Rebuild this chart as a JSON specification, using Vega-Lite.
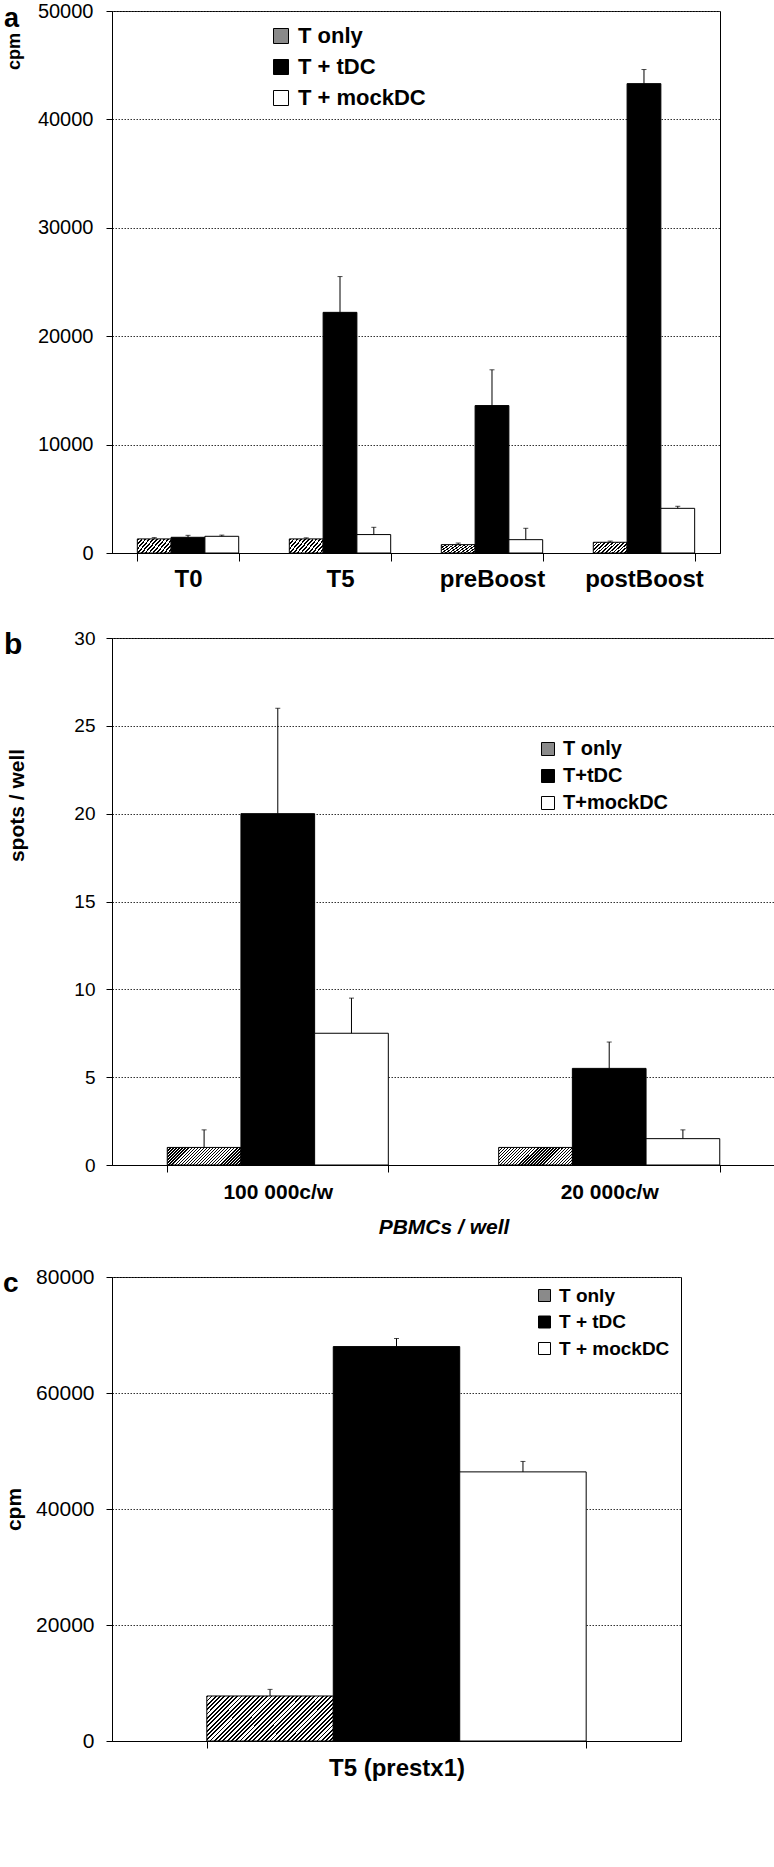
{
"$schema": "https://vega.github.io/schema/vega-lite/v6.json",
"padding": {"left": 2, "top": 0, "right": 0, "bottom": 0},
"background": "white",
"config": {
 "view": {"stroke": "black", "strokeWidth": 1},
 "font": "Liberation Sans",
 "axis": {"labelFont": "Liberation Sans", "titleFont": "Liberation Sans", "labelColor": "black", "titleColor": "black", "domainColor": "black", "tickColor": "black", "gridColor": "#333", "gridDash": [1.5, 1.5], "gridWidth": 1, "domainWidth": 1, "tickWidth": 1},
 "legend": {"labelFont": "Liberation Sans", "labelFontWeight": "bold", "labelColor": "black", "symbolType": "square", "symbolStrokeColor": "black", "symbolStrokeWidth": 1, "padding": 0, "offset": 0, "labelLimit": 0, "direction": "vertical"},
 "title": {"font": "Liberation Sans", "fontWeight": "bold", "color": "black", "anchor": "start", "frame": "group", "baseline": "alphabetic"}
},
"resolve": {"scale": {"fill": "independent", "y": "independent", "x": "independent", "xOffset": "independent"}, "legend": {"fill": "independent"}},
"spacing": 36,
"vconcat": [
 {
  "width": 608, "height": 542,
  "title": {"text": "a", "dx": -108, "offset": -32, "fontSize": 27},
  "data": {"values": [
   {"time": "T0", "cond": "T only", "v": 1300, "u": 1420},
   {"time": "T0", "cond": "T + tDC", "v": 1450, "u": 1630},
   {"time": "T0", "cond": "T + mockDC", "v": 1540, "u": 1650},
   {"time": "T5", "cond": "T only", "v": 1300, "u": 1400},
   {"time": "T5", "cond": "T + tDC", "v": 22200, "u": 25500},
   {"time": "T5", "cond": "T + mockDC", "v": 1700, "u": 2370},
   {"time": "preBoost", "cond": "T only", "v": 770, "u": 920},
   {"time": "preBoost", "cond": "T + tDC", "v": 13600, "u": 16900},
   {"time": "preBoost", "cond": "T + mockDC", "v": 1230, "u": 2280},
   {"time": "postBoost", "cond": "T only", "v": 990, "u": 1100},
   {"time": "postBoost", "cond": "T + tDC", "v": 43300, "u": 44600},
   {"time": "postBoost", "cond": "T + mockDC", "v": 4120, "u": 4310}
  ]},
  "encoding": {
   "x": {"field": "time", "type": "nominal", "sort": null, "scale": {"type": "band", "paddingInner": 0.333, "paddingOuter": 0.1667}, "axis": {"title": null, "labelAngle": 0, "tickBand": "extent", "tickSize": 8, "labelPadding": 6, "labelFontSize": 24, "labelFontWeight": "bold", "grid": false}},
   "xOffset": {"field": "cond", "type": "nominal", "sort": ["T only", "T + tDC", "T + mockDC"], "scale": {"type": "band", "paddingInner": 0, "paddingOuter": 0}}
  },
  "layer": [
   {"mark": {"type": "bar", "stroke": "black", "strokeWidth": 1},
    "encoding": {
     "y": {"field": "v", "type": "quantitative", "title": "cpm", "scale": {"domain": [0, 50000], "nice": false}, "axis": {"values": [0, 10000, 20000, 30000, 40000, 50000], "format": "d", "grid": true, "tickSize": 6, "labelPadding": 13, "labelFontSize": 20, "titleFontSize": 18, "titleFontWeight": "bold", "titleX": -89, "titleY": 40, "titleAngle": -90, "titleBaseline": "bottom", "titleAlign": "center"}},
     "fill": {"field": "cond", "type": "nominal",
      "scale": {"domain": ["T only", "T + tDC", "T + mockDC"], "range": ["#8a8a8a", "black", "white"]},
      "condition": {"test": "datum.cond === 'T only'", "value": {"gradient": "linear", "x1": 0, "y1": 0, "x2": 1.203, "y2": 0.421, "stops": [
{"offset":0,"color":"#000"},{"offset":0.0375,"color":"#000"},{"offset":0.0375,"color":"#fff"},{"offset":0.0833,"color":"#fff"},
{"offset":0.0833,"color":"#000"},{"offset":0.1208,"color":"#000"},{"offset":0.1208,"color":"#fff"},{"offset":0.1667,"color":"#fff"},
{"offset":0.1667,"color":"#000"},{"offset":0.2042,"color":"#000"},{"offset":0.2042,"color":"#fff"},{"offset":0.25,"color":"#fff"},
{"offset":0.25,"color":"#000"},{"offset":0.2875,"color":"#000"},{"offset":0.2875,"color":"#fff"},{"offset":0.3333,"color":"#fff"},
{"offset":0.3333,"color":"#000"},{"offset":0.3708,"color":"#000"},{"offset":0.3708,"color":"#fff"},{"offset":0.4167,"color":"#fff"},
{"offset":0.4167,"color":"#000"},{"offset":0.4542,"color":"#000"},{"offset":0.4542,"color":"#fff"},{"offset":0.5,"color":"#fff"},
{"offset":0.5,"color":"#000"},{"offset":0.5375,"color":"#000"},{"offset":0.5375,"color":"#fff"},{"offset":0.5833,"color":"#fff"},
{"offset":0.5833,"color":"#000"},{"offset":0.6208,"color":"#000"},{"offset":0.6208,"color":"#fff"},{"offset":0.6667,"color":"#fff"},
{"offset":0.6667,"color":"#000"},{"offset":0.7042,"color":"#000"},{"offset":0.7042,"color":"#fff"},{"offset":0.75,"color":"#fff"},
{"offset":0.75,"color":"#000"},{"offset":0.7875,"color":"#000"},{"offset":0.7875,"color":"#fff"},{"offset":0.8333,"color":"#fff"},
{"offset":0.8333,"color":"#000"},{"offset":0.8708,"color":"#000"},{"offset":0.8708,"color":"#fff"},{"offset":0.9167,"color":"#fff"},
{"offset":0.9167,"color":"#000"},{"offset":0.9542,"color":"#000"},{"offset":0.9542,"color":"#fff"},{"offset":1,"color":"#fff"}]}},
      "legend": {"orient": "none", "legendX": 158, "legendY": 14, "title": null, "symbolSize": 225, "labelFontSize": 22, "rowPadding": 9, "labelOffset": 6}
     }
    }},
   {"transform": [{"filter": "isValid(datum.u)"}], "mark": {"type": "rule", "color": "black", "strokeWidth": 1},
    "encoding": {"y": {"field": "v", "type": "quantitative", "title": "cpm"}, "y2": {"field": "u"}}},
   {"transform": [{"filter": "isValid(datum.u)"}], "mark": {"type": "tick", "color": "black", "thickness": 1, "size": 5, "orient": "horizontal"},
    "encoding": {"y": {"field": "u", "type": "quantitative", "title": "cpm"}}}
  ]
 },
 {
  "spacing": 27,
  "resolve": {"scale": {"fill": "independent", "y": "independent", "x": "independent", "xOffset": "independent"}, "legend": {"fill": "independent"}},
  "vconcat": [
   {
    "width": 663, "height": 527,
    "title": {"text": "b", "dx": -108, "offset": -31, "fontSize": 30},
    "data": {"values": [
     {"dens": "100 000c/w", "cond": "T only", "v": 1, "u": 2},
     {"dens": "100 000c/w", "cond": "T+tDC", "v": 20, "u": 26},
     {"dens": "100 000c/w", "cond": "T+mockDC", "v": 7.5, "u": 9.5},
     {"dens": "20 000c/w", "cond": "T only", "v": 1},
     {"dens": "20 000c/w", "cond": "T+tDC", "v": 5.5, "u": 7},
     {"dens": "20 000c/w", "cond": "T+mockDC", "v": 1.5, "u": 2}
    ]},
    "encoding": {
     "x": {"field": "dens", "type": "nominal", "sort": null, "title": "PBMCs / well", "scale": {"type": "band", "paddingInner": 0.333, "paddingOuter": 0.1667}, "axis": {"labelAngle": 0, "tickBand": "extent", "tickSize": 7, "labelPadding": 9, "labelFontSize": 21, "labelFontWeight": "bold", "grid": false, "titleFontSize": 21, "titleFontWeight": "bold", "titleFontStyle": "italic", "titlePadding": 14}},
     "xOffset": {"field": "cond", "type": "nominal", "sort": ["T only", "T+tDC", "T+mockDC"], "scale": {"type": "band", "paddingInner": 0, "paddingOuter": 0}}
    },
    "layer": [
     {"mark": {"type": "bar", "stroke": "black", "strokeWidth": 1},
      "encoding": {
       "y": {"field": "v", "type": "quantitative", "title": "spots / well", "scale": {"domain": [0, 30], "nice": false}, "axis": {"values": [0, 5, 10, 15, 20, 25, 30], "grid": true, "tickSize": 6, "labelPadding": 11, "labelFontSize": 19, "titleFontSize": 21, "titleFontWeight": "bold", "titleX": -85, "titleY": 167, "titleAngle": -90, "titleBaseline": "bottom", "titleAlign": "center"}},
       "fill": {"field": "cond", "type": "nominal",
        "scale": {"domain": ["T only", "T+tDC", "T+mockDC"], "range": ["#8a8a8a", "black", "white"]},
        "condition": {"test": "datum.cond === 'T only'", "value": {"gradient": "linear", "x1": 0, "y1": 0, "x2": 1.172, "y2": 0.279, "stops": [
{"offset":0,"color":"#000"},{"offset":0.015,"color":"#000"},{"offset":0.015,"color":"#fff"},{"offset":0.0333,"color":"#fff"},
{"offset":0.0333,"color":"#000"},{"offset":0.0483,"color":"#000"},{"offset":0.0483,"color":"#fff"},{"offset":0.0667,"color":"#fff"},
{"offset":0.0667,"color":"#000"},{"offset":0.0817,"color":"#000"},{"offset":0.0817,"color":"#fff"},{"offset":0.1,"color":"#fff"},
{"offset":0.1,"color":"#000"},{"offset":0.115,"color":"#000"},{"offset":0.115,"color":"#fff"},{"offset":0.1333,"color":"#fff"},
{"offset":0.1333,"color":"#000"},{"offset":0.1483,"color":"#000"},{"offset":0.1483,"color":"#fff"},{"offset":0.1667,"color":"#fff"},
{"offset":0.1667,"color":"#000"},{"offset":0.1817,"color":"#000"},{"offset":0.1817,"color":"#fff"},{"offset":0.2,"color":"#fff"},
{"offset":0.2,"color":"#000"},{"offset":0.215,"color":"#000"},{"offset":0.215,"color":"#fff"},{"offset":0.2333,"color":"#fff"},
{"offset":0.2333,"color":"#000"},{"offset":0.2483,"color":"#000"},{"offset":0.2483,"color":"#fff"},{"offset":0.2667,"color":"#fff"},
{"offset":0.2667,"color":"#000"},{"offset":0.2817,"color":"#000"},{"offset":0.2817,"color":"#fff"},{"offset":0.3,"color":"#fff"},
{"offset":0.3,"color":"#000"},{"offset":0.315,"color":"#000"},{"offset":0.315,"color":"#fff"},{"offset":0.3333,"color":"#fff"},
{"offset":0.3333,"color":"#000"},{"offset":0.3483,"color":"#000"},{"offset":0.3483,"color":"#fff"},{"offset":0.3667,"color":"#fff"},
{"offset":0.3667,"color":"#000"},{"offset":0.3817,"color":"#000"},{"offset":0.3817,"color":"#fff"},{"offset":0.4,"color":"#fff"},
{"offset":0.4,"color":"#000"},{"offset":0.415,"color":"#000"},{"offset":0.415,"color":"#fff"},{"offset":0.4333,"color":"#fff"},
{"offset":0.4333,"color":"#000"},{"offset":0.4483,"color":"#000"},{"offset":0.4483,"color":"#fff"},{"offset":0.4667,"color":"#fff"},
{"offset":0.4667,"color":"#000"},{"offset":0.4817,"color":"#000"},{"offset":0.4817,"color":"#fff"},{"offset":0.5,"color":"#fff"},
{"offset":0.5,"color":"#000"},{"offset":0.515,"color":"#000"},{"offset":0.515,"color":"#fff"},{"offset":0.5333,"color":"#fff"},
{"offset":0.5333,"color":"#000"},{"offset":0.5483,"color":"#000"},{"offset":0.5483,"color":"#fff"},{"offset":0.5667,"color":"#fff"},
{"offset":0.5667,"color":"#000"},{"offset":0.5817,"color":"#000"},{"offset":0.5817,"color":"#fff"},{"offset":0.6,"color":"#fff"},
{"offset":0.6,"color":"#000"},{"offset":0.615,"color":"#000"},{"offset":0.615,"color":"#fff"},{"offset":0.6333,"color":"#fff"},
{"offset":0.6333,"color":"#000"},{"offset":0.6483,"color":"#000"},{"offset":0.6483,"color":"#fff"},{"offset":0.6667,"color":"#fff"},
{"offset":0.6667,"color":"#000"},{"offset":0.6817,"color":"#000"},{"offset":0.6817,"color":"#fff"},{"offset":0.7,"color":"#fff"},
{"offset":0.7,"color":"#000"},{"offset":0.715,"color":"#000"},{"offset":0.715,"color":"#fff"},{"offset":0.7333,"color":"#fff"},
{"offset":0.7333,"color":"#000"},{"offset":0.7483,"color":"#000"},{"offset":0.7483,"color":"#fff"},{"offset":0.7667,"color":"#fff"},
{"offset":0.7667,"color":"#000"},{"offset":0.7817,"color":"#000"},{"offset":0.7817,"color":"#fff"},{"offset":0.8,"color":"#fff"},
{"offset":0.8,"color":"#000"},{"offset":0.815,"color":"#000"},{"offset":0.815,"color":"#fff"},{"offset":0.8333,"color":"#fff"},
{"offset":0.8333,"color":"#000"},{"offset":0.8483,"color":"#000"},{"offset":0.8483,"color":"#fff"},{"offset":0.8667,"color":"#fff"},
{"offset":0.8667,"color":"#000"},{"offset":0.8817,"color":"#000"},{"offset":0.8817,"color":"#fff"},{"offset":0.9,"color":"#fff"},
{"offset":0.9,"color":"#000"},{"offset":0.915,"color":"#000"},{"offset":0.915,"color":"#fff"},{"offset":0.9333,"color":"#fff"},
{"offset":0.9333,"color":"#000"},{"offset":0.9483,"color":"#000"},{"offset":0.9483,"color":"#fff"},{"offset":0.9667,"color":"#fff"},
{"offset":0.9667,"color":"#000"},{"offset":0.9817,"color":"#000"},{"offset":0.9817,"color":"#fff"},{"offset":1,"color":"#fff"}]}},
        "legend": {"orient": "none", "legendX": 426, "legendY": 101, "title": null, "symbolSize": 169, "labelFontSize": 20, "rowPadding": 7, "labelOffset": 5}
       }
      }},
     {"transform": [{"filter": "isValid(datum.u)"}], "mark": {"type": "rule", "color": "black", "strokeWidth": 1},
      "encoding": {"y": {"field": "v", "type": "quantitative", "title": "spots / well"}, "y2": {"field": "u"}}},
     {"transform": [{"filter": "isValid(datum.u)"}], "mark": {"type": "tick", "color": "black", "thickness": 1, "size": 5, "orient": "horizontal"},
      "encoding": {"y": {"field": "u", "type": "quantitative", "title": "spots / well"}}}
    ]
   },
   {
    "width": 569, "height": 464,
    "title": {"text": "c", "dx": -109, "offset": -32, "fontSize": 28},
    "data": {"values": [
     {"grp": "T5 (prestx1)", "cond": "T only", "v": 7760, "u": 8900},
     {"grp": "T5 (prestx1)", "cond": "T + tDC", "v": 68000, "u": 69400},
     {"grp": "T5 (prestx1)", "cond": "T + mockDC", "v": 46400, "u": 48200}
    ]},
    "encoding": {
     "x": {"field": "grp", "type": "nominal", "sort": null, "scale": {"type": "band", "paddingInner": 0.333, "paddingOuter": 0.1667}, "axis": {"title": null, "labelAngle": 0, "tickBand": "extent", "tickSize": 7, "labelPadding": 8, "labelFontSize": 24, "labelFontWeight": "bold", "grid": false}},
     "xOffset": {"field": "cond", "type": "nominal", "sort": ["T only", "T + tDC", "T + mockDC"], "scale": {"type": "band", "paddingInner": 0, "paddingOuter": 0}}
    },
    "layer": [
     {"mark": {"type": "bar", "stroke": "black", "strokeWidth": 1},
      "encoding": {
       "y": {"field": "v", "type": "quantitative", "title": "cpm", "scale": {"domain": [0, 80000], "nice": false}, "axis": {"values": [0, 20000, 40000, 60000, 80000], "format": "d", "grid": true, "tickSize": 6, "labelPadding": 12, "labelFontSize": 21, "titleFontSize": 21, "titleFontWeight": "bold", "titleX": -88, "titleAngle": -90, "titleBaseline": "bottom", "titleAlign": "center"}},
       "fill": {"field": "cond", "type": "nominal",
        "scale": {"domain": ["T only", "T + tDC", "T + mockDC"], "range": ["#8a8a8a", "black", "white"]},
        "condition": {"test": "datum.cond === 'T only'", "value": {"gradient": "linear", "x1": 0, "y1": 0, "x2": 1.203, "y2": 0.426, "stops": [
{"offset":0,"color":"#000"},{"offset":0.011,"color":"#000"},{"offset":0.011,"color":"#fff"},{"offset":0.025,"color":"#fff"},
{"offset":0.025,"color":"#000"},{"offset":0.036,"color":"#000"},{"offset":0.036,"color":"#fff"},{"offset":0.05,"color":"#fff"},
{"offset":0.05,"color":"#000"},{"offset":0.061,"color":"#000"},{"offset":0.061,"color":"#fff"},{"offset":0.075,"color":"#fff"},
{"offset":0.075,"color":"#000"},{"offset":0.086,"color":"#000"},{"offset":0.086,"color":"#fff"},{"offset":0.1,"color":"#fff"},
{"offset":0.1,"color":"#000"},{"offset":0.111,"color":"#000"},{"offset":0.111,"color":"#fff"},{"offset":0.125,"color":"#fff"},
{"offset":0.125,"color":"#000"},{"offset":0.136,"color":"#000"},{"offset":0.136,"color":"#fff"},{"offset":0.15,"color":"#fff"},
{"offset":0.15,"color":"#000"},{"offset":0.161,"color":"#000"},{"offset":0.161,"color":"#fff"},{"offset":0.175,"color":"#fff"},
{"offset":0.175,"color":"#000"},{"offset":0.186,"color":"#000"},{"offset":0.186,"color":"#fff"},{"offset":0.2,"color":"#fff"},
{"offset":0.2,"color":"#000"},{"offset":0.211,"color":"#000"},{"offset":0.211,"color":"#fff"},{"offset":0.225,"color":"#fff"},
{"offset":0.225,"color":"#000"},{"offset":0.236,"color":"#000"},{"offset":0.236,"color":"#fff"},{"offset":0.25,"color":"#fff"},
{"offset":0.25,"color":"#000"},{"offset":0.261,"color":"#000"},{"offset":0.261,"color":"#fff"},{"offset":0.275,"color":"#fff"},
{"offset":0.275,"color":"#000"},{"offset":0.286,"color":"#000"},{"offset":0.286,"color":"#fff"},{"offset":0.3,"color":"#fff"},
{"offset":0.3,"color":"#000"},{"offset":0.311,"color":"#000"},{"offset":0.311,"color":"#fff"},{"offset":0.325,"color":"#fff"},
{"offset":0.325,"color":"#000"},{"offset":0.336,"color":"#000"},{"offset":0.336,"color":"#fff"},{"offset":0.35,"color":"#fff"},
{"offset":0.35,"color":"#000"},{"offset":0.361,"color":"#000"},{"offset":0.361,"color":"#fff"},{"offset":0.375,"color":"#fff"},
{"offset":0.375,"color":"#000"},{"offset":0.386,"color":"#000"},{"offset":0.386,"color":"#fff"},{"offset":0.4,"color":"#fff"},
{"offset":0.4,"color":"#000"},{"offset":0.411,"color":"#000"},{"offset":0.411,"color":"#fff"},{"offset":0.425,"color":"#fff"},
{"offset":0.425,"color":"#000"},{"offset":0.436,"color":"#000"},{"offset":0.436,"color":"#fff"},{"offset":0.45,"color":"#fff"},
{"offset":0.45,"color":"#000"},{"offset":0.461,"color":"#000"},{"offset":0.461,"color":"#fff"},{"offset":0.475,"color":"#fff"},
{"offset":0.475,"color":"#000"},{"offset":0.486,"color":"#000"},{"offset":0.486,"color":"#fff"},{"offset":0.5,"color":"#fff"},
{"offset":0.5,"color":"#000"},{"offset":0.511,"color":"#000"},{"offset":0.511,"color":"#fff"},{"offset":0.525,"color":"#fff"},
{"offset":0.525,"color":"#000"},{"offset":0.536,"color":"#000"},{"offset":0.536,"color":"#fff"},{"offset":0.55,"color":"#fff"},
{"offset":0.55,"color":"#000"},{"offset":0.561,"color":"#000"},{"offset":0.561,"color":"#fff"},{"offset":0.575,"color":"#fff"},
{"offset":0.575,"color":"#000"},{"offset":0.586,"color":"#000"},{"offset":0.586,"color":"#fff"},{"offset":0.6,"color":"#fff"},
{"offset":0.6,"color":"#000"},{"offset":0.611,"color":"#000"},{"offset":0.611,"color":"#fff"},{"offset":0.625,"color":"#fff"},
{"offset":0.625,"color":"#000"},{"offset":0.636,"color":"#000"},{"offset":0.636,"color":"#fff"},{"offset":0.65,"color":"#fff"},
{"offset":0.65,"color":"#000"},{"offset":0.661,"color":"#000"},{"offset":0.661,"color":"#fff"},{"offset":0.675,"color":"#fff"},
{"offset":0.675,"color":"#000"},{"offset":0.686,"color":"#000"},{"offset":0.686,"color":"#fff"},{"offset":0.7,"color":"#fff"},
{"offset":0.7,"color":"#000"},{"offset":0.711,"color":"#000"},{"offset":0.711,"color":"#fff"},{"offset":0.725,"color":"#fff"},
{"offset":0.725,"color":"#000"},{"offset":0.736,"color":"#000"},{"offset":0.736,"color":"#fff"},{"offset":0.75,"color":"#fff"},
{"offset":0.75,"color":"#000"},{"offset":0.761,"color":"#000"},{"offset":0.761,"color":"#fff"},{"offset":0.775,"color":"#fff"},
{"offset":0.775,"color":"#000"},{"offset":0.786,"color":"#000"},{"offset":0.786,"color":"#fff"},{"offset":0.8,"color":"#fff"},
{"offset":0.8,"color":"#000"},{"offset":0.811,"color":"#000"},{"offset":0.811,"color":"#fff"},{"offset":0.825,"color":"#fff"},
{"offset":0.825,"color":"#000"},{"offset":0.836,"color":"#000"},{"offset":0.836,"color":"#fff"},{"offset":0.85,"color":"#fff"},
{"offset":0.85,"color":"#000"},{"offset":0.861,"color":"#000"},{"offset":0.861,"color":"#fff"},{"offset":0.875,"color":"#fff"},
{"offset":0.875,"color":"#000"},{"offset":0.886,"color":"#000"},{"offset":0.886,"color":"#fff"},{"offset":0.9,"color":"#fff"},
{"offset":0.9,"color":"#000"},{"offset":0.911,"color":"#000"},{"offset":0.911,"color":"#fff"},{"offset":0.925,"color":"#fff"},
{"offset":0.925,"color":"#000"},{"offset":0.936,"color":"#000"},{"offset":0.936,"color":"#fff"},{"offset":0.95,"color":"#fff"},
{"offset":0.95,"color":"#000"},{"offset":0.961,"color":"#000"},{"offset":0.961,"color":"#fff"},{"offset":0.975,"color":"#fff"},
{"offset":0.975,"color":"#000"},{"offset":0.986,"color":"#000"},{"offset":0.986,"color":"#fff"},{"offset":1,"color":"#fff"}]}},
        "legend": {"orient": "none", "legendX": 423, "legendY": 9, "title": null, "symbolSize": 144, "labelFontSize": 19, "rowPadding": 6.5, "labelOffset": 5}
       }
      }},
     {"transform": [{"filter": "isValid(datum.u)"}], "mark": {"type": "rule", "color": "black", "strokeWidth": 1},
      "encoding": {"y": {"field": "v", "type": "quantitative", "title": "cpm"}, "y2": {"field": "u"}}},
     {"transform": [{"filter": "isValid(datum.u)"}], "mark": {"type": "tick", "color": "black", "thickness": 1, "size": 5, "orient": "horizontal"},
      "encoding": {"y": {"field": "u", "type": "quantitative", "title": "cpm"}}}
    ]
   }
  ]
 }
]
}
